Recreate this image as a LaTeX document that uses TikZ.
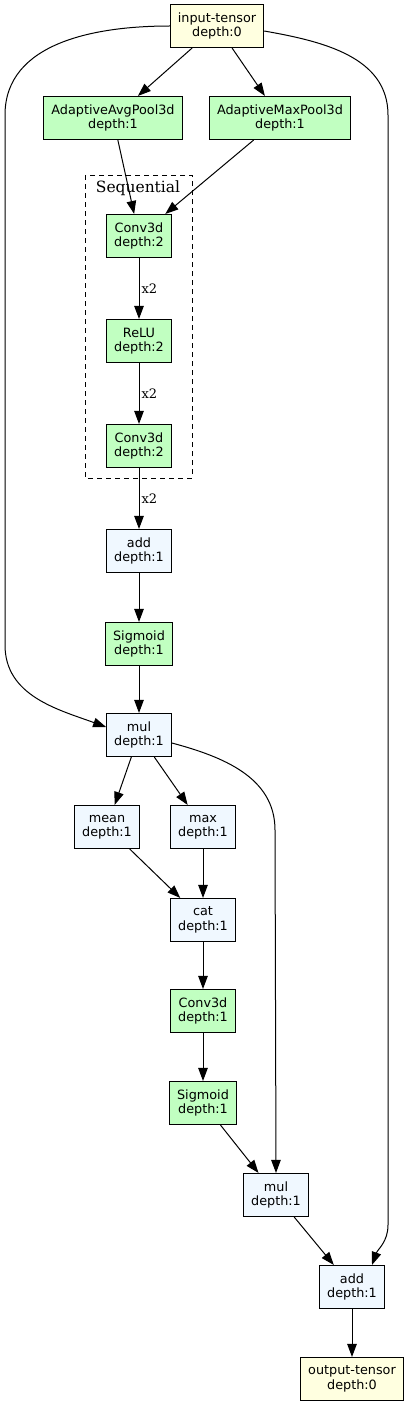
\documentclass[tikz,border=0pt]{standalone}
\usepackage{fontspec}
\setmainfont{DejaVu Serif}
\setsansfont{DejaVu Sans}
\usetikzlibrary{arrows.meta}
\definecolor{tensorfill}{HTML}{FFFFE0}
\definecolor{modulefill}{HTML}{C1FFC1}
\definecolor{funcfill}{HTML}{F0F8FF}
\begin{document}
\begin{tikzpicture}[x=1pt,y=-1pt]
	\tikzstyle{Box} = [draw, line width=1.1pt, font=\sffamily\fontsize{12.8}{14.5}\selectfont, align=center, minimum width=64pt, minimum height=43pt, inner xsep=7.5pt, inner ysep=2pt]
	\tikzstyle{Tensor} = [Box, fill=tensorfill]
	\tikzstyle{Module} = [Box, fill=modulefill]
	\tikzstyle{Func} = [Box, fill=funcfill]
	\tikzstyle{Edge} = [-{Triangle[length=13pt,width=9.5pt]}, line width=1pt]
	\tikzstyle{Times} = [font=\fontsize{13}{15}\selectfont, inner sep=2pt]
	\useasboundingbox (0,0) rectangle (409,1407);
	\draw[dash pattern=on 5pt off 4pt, line width=0.9pt] (85,175) rectangle (192,478);
	\node[font=\fontsize{15.5}{17}\selectfont] (seq) at (138,188) {Sequential};
	\node[Tensor] (in) at (217,26) {input-tensor\\depth:0};
	\node[Module] (avg) at (113,118) {AdaptiveAvgPool3d\\depth:1};
	\node[Module] (mx) at (280,118) {AdaptiveMaxPool3d\\depth:1};
	\node[Module] (convA) at (139,236) {Conv3d\\depth:2};
	\node[Module] (relu) at (139,341) {ReLU\\depth:2};
	\node[Module] (convB) at (139,446) {Conv3d\\depth:2};
	\node[Func] (addA) at (139,551) {add\\depth:1};
	\node[Module] (sigA) at (139,644) {Sigmoid\\depth:1};
	\node[Func] (mulA) at (139,735) {mul\\depth:1};
	\node[Func] (mean) at (107,827) {mean\\depth:1};
	\node[Func] (max) at (203,827) {max\\depth:1};
	\node[Func] (cat) at (203,920) {cat\\depth:1};
	\node[Module] (convC) at (203,1011) {Conv3d\\depth:1};
	\node[Module] (sigB) at (203,1103) {Sigmoid\\depth:1};
	\node[Func] (mulB) at (276,1195) {mul\\depth:1};
	\node[Func] (addB) at (352,1287) {add\\depth:1};
	\node[Tensor] (out) at (352,1379) {output-tensor\\depth:0};
	\draw[Edge] (in) -- (avg);
	\draw[Edge] (in) -- (mx);
	\draw[Edge] (in.west) to[out=180,in=90] (5,115) -- (5,645) to[out=-90,in=160] ([yshift=8pt]mulA.west);
	\draw[Edge] ([yshift=-5pt]in.east) to[out=-10,in=90] (388,115) -- (388,1225) to[out=-90,in=70] ([xshift=20pt]addB.north);
	\draw[Edge] (avg) -- (convA);
	\draw[Edge] (mx) -- (convA);
	\draw[Edge] (convA) -- node[Times, right] {x2} (relu);
	\draw[Edge] (relu) -- node[Times, right] {x2} (convB);
	\draw[Edge] (convB) -- node[Times, right] {x2} (addA);
	\draw[Edge] (addA) -- (sigA);
	\draw[Edge] (sigA) -- (mulA);
	\draw[Edge] (mulA) -- (mean);
	\draw[Edge] (mulA) -- (max);
	\draw[Edge] ([yshift=-8pt]mulA.east) to[out=-15,in=90] (275,830) -- (mulB.north);
	\draw[Edge] (mean) -- (cat);
	\draw[Edge] (max) -- (cat);
	\draw[Edge] (cat) -- (convC);
	\draw[Edge] (convC) -- (sigB);
	\draw[Edge] (sigB) -- (mulB);
	\draw[Edge] (mulB) -- (addB);
	\draw[Edge] (addB) -- (out);
\end{tikzpicture}
\end{document}
